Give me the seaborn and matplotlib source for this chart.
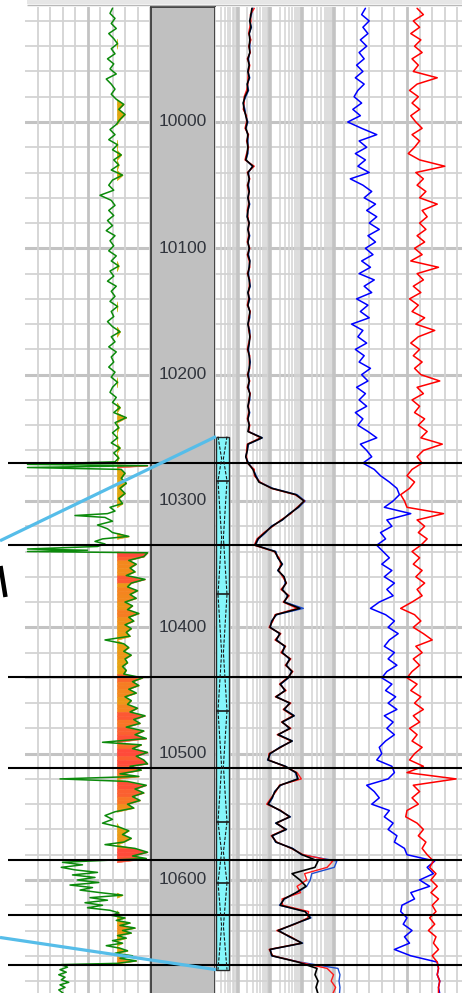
import numpy as np
import matplotlib
matplotlib.use("Agg")
import matplotlib.pyplot as plt
import matplotlib.transforms as mtransforms
from matplotlib.colors import LinearSegmentedColormap, Normalize
from matplotlib.patches import Rectangle
import seaborn as sns

# ── Layout (pixels of the 462 x 993 picture) ────────────────────────────────
FIG_W, FIG_H = 462, 993
PX_PER_FT = 1.2633
Y_AT_10000 = 122
TRACK_TOP_PX = 7


def depth_at(py):
    return 10000 + (py - Y_AT_10000) / PX_PER_FT


# ── Data ─────────────────────────────────────────────────────────────────────
DEPTH_LABELS = [10000, 10100, 10200, 10300, 10400, 10500, 10600]
ZONE_TOPS = [10270, 10335, 10439, 10511, 10584, 10628, 10667]
COLUMN_BREAKS = [10249, 10284, 10374, 10466, 10554, 10602, 10671]
CORR_LEFT = [10331.5, 10645.5]
CORR_RIGHT = [10249, 10671]
GR_CUTOFF = 7.35

# track 1 curve (depth, value)
GR_SAMPLES = [
    (9910, 7.0), (9914, 6.8), (9918, 7.2), (9922, 6.9), (9926, 7.3), (9930, 6.7),
    (9934, 7.1), (9938, 7.4), (9942, 6.9), (9946, 7.2), (9950, 6.6), (9954, 7.1),
    (9958, 6.8), (9962, 7.3), (9966, 6.5), (9970, 6.9), (9974, 7.2), (9978, 6.9),
    (9982, 7.3), (9986, 7.9), (9990, 7.5), (9994, 8.0), (9998, 7.6), (10002, 7.3),
    (10006, 6.8), (10010, 7.2), (10014, 6.7), (10018, 7.4), (10022, 7.0), (10026, 7.7),
    (10030, 7.1), (10034, 7.5), (10038, 6.9), (10042, 7.8), (10046, 7.0), (10050, 6.7),
    (10054, 7.1), (10058, 6.0), (10062, 6.9), (10066, 7.2), (10070, 6.7), (10074, 7.1),
    (10078, 6.6), (10082, 7.0), (10086, 6.5), (10090, 7.2), (10094, 6.8), (10098, 7.1),
    (10102, 6.7), (10106, 7.3), (10110, 6.9), (10114, 7.5), (10118, 6.8), (10122, 7.1),
    (10126, 6.6), (10130, 7.3), (10134, 6.9), (10138, 7.2), (10142, 6.8), (10146, 7.4),
    (10150, 6.9), (10154, 7.1), (10158, 6.6), (10162, 7.0), (10166, 7.6), (10170, 6.9),
    (10174, 7.2), (10178, 6.7), (10182, 7.3), (10186, 6.9), (10190, 7.1), (10194, 6.7),
    (10198, 7.2), (10202, 6.9), (10206, 7.4), (10210, 7.0), (10214, 6.8), (10218, 7.3),
    (10222, 7.0), (10226, 7.6), (10230, 7.1), (10234, 8.1), (10238, 7.2), (10242, 7.5),
    (10246, 7.0), (10250, 7.4), (10254, 6.9), (10258, 7.6), (10262, 7.1), (10266, 7.5),
    (10269, 7.2), (10271, 0.2), (10272, 9.8), (10273.5, 0.2), (10275, 7.7), (10278, 8.0),
    (10282, 7.7), (10286, 8.1), (10290, 7.6), (10294, 8.0), (10298, 7.5), (10302, 7.8),
    (10305, 6.8), (10308, 7.2), (10310, 6.6), (10311.5, 4.0), (10313, 6.4), (10316, 7.0),
    (10319, 5.8), (10322, 6.6), (10325, 7.0), (10328, 8.3), (10330, 6.2), (10332, 5.6),
    (10334, 6.4), (10336, 5.8), (10338, 0.2), (10339, 5.0), (10340, 0.2), (10341, 9.8),
    (10344, 9.5), (10347, 8.3), (10350, 8.9), (10353, 8.4), (10356, 8.8), (10359, 8.1),
    (10362, 9.6), (10365, 8.5), (10368, 8.2), (10371, 9.0), (10374, 8.4), (10377, 8.9),
    (10380, 8.0), (10383, 8.6), (10386, 8.2), (10389, 9.1), (10392, 8.3), (10395, 8.7),
    (10398, 8.0), (10401, 8.5), (10404, 8.1), (10407, 8.4), (10410, 6.4), (10413, 7.9),
    (10416, 8.3), (10419, 7.9), (10422, 8.5), (10425, 8.0), (10428, 8.2), (10431, 7.8),
    (10434, 8.1), (10437, 7.9), (10440, 9.4), (10443, 8.6), (10446, 9.1), (10449, 8.3),
    (10452, 8.9), (10455, 8.0), (10458, 8.5), (10461, 8.2), (10464, 9.0), (10467, 8.4),
    (10470, 9.6), (10473, 8.7), (10476, 9.2), (10479, 8.1), (10482, 9.5), (10485, 8.8),
    (10488, 9.7), (10491, 6.2), (10493, 9.3), (10496, 8.6), (10499, 9.8), (10502, 8.9),
    (10505, 9.5), (10508, 9.8), (10510, 8.4), (10513, 9.3), (10516, 7.6), (10518, 9.1),
    (10520, 2.8), (10522, 8.2), (10525, 9.7), (10528, 8.8), (10531, 9.5), (10534, 8.6),
    (10537, 9.2), (10540, 8.2), (10543, 8.7), (10546, 7.2), (10549, 6.4), (10552, 7.0),
    (10555, 6.2), (10558, 7.5), (10561, 8.3), (10564, 7.8), (10567, 8.5), (10570, 7.9),
    (10572, 6.4), (10575, 8.8), (10578, 9.8), (10581, 8.6), (10583, 9.7), (10586, 3.0),
    (10588, 4.6), (10590, 2.9), (10592, 4.0), (10594, 5.8), (10596, 3.8), (10598, 5.6),
    (10600, 4.2), (10602, 5.9), (10604, 3.6), (10606, 5.4), (10608, 4.4), (10610, 6.0),
    (10612, 7.8), (10614, 5.2), (10616, 6.6), (10618, 4.8), (10620, 6.2), (10622, 5.0),
    (10624, 6.8), (10626, 7.5), (10628, 6.9), (10630, 8.0), (10632, 7.3), (10634, 8.4),
    (10636, 7.6), (10638, 8.8), (10640, 7.8), (10642, 8.5), (10644, 7.4), (10646, 8.1),
    (10648, 7.0), (10650, 7.8), (10652, 6.5), (10654, 7.6), (10656, 8.2), (10658, 7.2),
    (10660, 8.6), (10662, 7.6), (10664, 8.9), (10666, 7.4), (10667, 2.9), (10669, 3.4),
    (10671, 2.8), (10673, 3.3), (10675, 2.7), (10677, 3.2), (10679, 2.9), (10681, 3.5),
    (10683, 2.8), (10685, 3.2), (10687, 2.7), (10690, 3.1),
]

# tracks 2 and 3 are sampled every 5 ft from 9910 ft
LOG_START, LOG_STEP = 9910, 5

# track 2 (log scale), rows of ten samples
RES_DEEP = [
    2.8, 2.6, 2.4, 2.6, 2.3, 2.4, 2.3, 2.4, 2.1, 2.3,        # 9910
    2.1, 2.3, 2.0, 2.1, 1.7, 1.5, 1.6, 1.8, 2.0, 1.8,        # 9960
    2.1, 2.0, 2.1, 2.0, 1.8, 3.0, 2.1, 2.3, 2.1, 2.3,        # 10010
    2.1, 2.3, 2.1, 2.0, 2.3, 2.1, 2.3, 2.1, 2.3, 2.1,        # 10060
    2.4, 2.3, 2.1, 2.3, 2.4, 2.1, 2.3, 2.1, 2.4, 2.3,        # 10110
    2.1, 2.3, 2.4, 2.3, 2.1, 2.3, 2.4, 2.3, 2.1, 2.3,        # 10160
    2.1, 2.4, 2.3, 2.1, 2.3, 2.1, 2.3, 2.1, 5.7, 2.1,        # 10210
    2.0, 1.8, 2.1, 3.0, 3.6, 4.6, 11.7, 65, 115, 75,         # 10260
    42, 24, 11.7, 7.1, 4.3, 3.5, 14.5, 18, 24, 18,           # 10310
    27.6, 31.8, 24, 36.7, 27.6, 86, 15.6, 11.7, 10.1, 20.7,  # 10360
    15.6, 29.7, 24, 42, 32, 49, 37, 21, 30, 15.6,            # 10410
    42, 27.6, 56, 24, 42, 18, 49, 21, 10.1, 8.8,             # 10460
    30, 65, 75, 21, 14.5, 11.7, 8.8, 21, 42, 15.6,           # 10510
    32, 11.7, 15.6, 49, 100, 313, 252, 49, 86, 133,          # 10560
    65, 27.6, 21, 124, 177, 56, 18, 42, 100, 10.1,           # 10610
    11.7, 75, 291, 252, 313, 271, 313,                       # 10660
]
RES_SHALLOW = [
    3.3, 2.5, 2.6, 2.4, 2.2, 2.6, 2.2, 2.5, 2.0, 2.4,
    2.2, 2.1, 2.1, 1.9, 1.6, 1.6, 1.5, 1.9, 1.9, 1.7,
    2.2, 1.9, 2.2, 1.9, 1.7, 3.3, 2.0, 2.4, 2.0, 2.2,
    2.2, 2.2, 2.0, 2.1, 2.2, 2.2, 2.2, 2.0, 2.4, 2.0,
    2.3, 2.4, 2.0, 2.4, 2.3, 2.2, 2.2, 2.0, 2.5, 2.2,
    2.2, 2.2, 2.5, 2.2, 2.0, 2.4, 2.3, 2.4, 2.0, 2.4,
    2.0, 2.5, 2.2, 2.2, 2.2, 2.0, 2.4, 2.2, 5.2, 2.0,
    1.9, 1.9, 2.0, 3.3, 3.3, 5.0, 11.0, 60, 120, 70,
    45, 22, 12.5, 6.6, 4.0, 3.3, 13.5, 19.5, 22, 19,
    25, 33, 22, 40, 26, 70, 14.5, 12.5, 9.5, 22,
    14.5, 31, 22, 45, 30, 52, 35, 20, 32, 14.8,
    45, 26, 52, 23, 45, 17, 46, 22, 9.4, 9.2,
    28, 70, 95, 20, 15.5, 11.0, 8.0, 22, 40, 16.5,
    30, 11.0, 16.5, 46, 110, 900, 600, 120, 140, 70,
    90, 24, 25, 160, 150, 60, 16.5, 45, 95, 9.5,
    12.5, 80, 600, 950, 800, 1100, 900,
]
RES_MEDIUM = [
    3.0, 2.7, 2.4, 2.7, 2.3, 2.5, 2.4, 2.4, 2.2, 2.3,
    2.1, 2.4, 2.0, 2.2, 1.8, 1.5, 1.7, 1.8, 2.1, 1.8,
    2.1, 2.1, 2.1, 2.1, 1.8, 2.9, 2.2, 2.3, 2.2, 2.3,
    2.1, 2.4, 2.1, 2.0, 2.3, 2.1, 2.4, 2.1, 2.3, 2.2,
    2.4, 2.3, 2.2, 2.3, 2.5, 2.1, 2.4, 2.1, 2.4, 2.4,
    2.1, 2.4, 2.4, 2.3, 2.2, 2.3, 2.5, 2.3, 2.2, 2.3,
    2.2, 2.4, 2.4, 2.1, 2.4, 2.1, 2.3, 2.2, 5.9, 2.2,
    2.0, 1.8, 2.2, 3.1, 3.8, 4.8, 12.5, 70, 125, 80,
    40, 25, 11.0, 7.5, 4.5, 3.6, 15.5, 17.5, 25, 17.5,
    28, 30, 25, 35, 29, 110, 16.5, 11.2, 10.5, 20,
    16.5, 28, 25, 40, 33, 47, 38, 22, 29, 16.5,
    40, 29, 58, 25, 40, 19, 50, 20, 10.6, 8.5,
    31, 62, 72, 22, 14.0, 12.2, 9.2, 20, 44, 15.0,
    33, 12.2, 15.0, 52, 95, 1200, 1000, 200, 180, 140,
    70, 29, 20, 130, 190, 55, 19, 40, 105, 10.6,
    11.2, 85, 1300, 1500, 1400, 1500, 1450,
]

# track 3 (linear scale)
T3_BLUE = [
    1.7, 1.4, 2.0, 1.5, 1.9, 1.3, 1.8, 1.2, 1.6, 1.0,
    1.5, 0.9, 1.6, 1.1, 0.8, 1.4, 0.7, 1.3, 0.3, 1.4,
    2.6, 1.2, 1.8, 0.9, 1.7, 1.1, 2.0, 0.5, 1.5, 2.2,
    1.6, 2.5, 1.8, 2.6, 2.0, 2.8, 1.9, 2.5, 1.7, 2.3,
    1.4, 2.1, 1.2, 2.4, 1.6, 2.2, 1.0, 1.9, 1.3, 2.0,
    0.6, 1.5, 1.1, 1.8, 0.9, 1.6, 1.2, 2.1, 1.4, 1.9,
    1.0, 1.7, 1.2, 1.8, 0.9, 1.5, 1.1, 1.9, 2.6, 1.3,
    1.8, 2.2, 1.5, 2.4, 2.9, 3.6, 4.2, 4.4, 3.9, 3.2,
    5.3, 3.4, 3.8, 2.9, 3.3, 2.6, 3.1, 3.6, 3.0, 3.8,
    3.2, 4.0, 3.4, 3.9, 2.8, 2.1, 3.3, 4.0, 3.5, 4.3,
    3.6, 3.2, 4.0, 3.5, 4.2, 3.4, 3.0, 3.8, 3.3, 4.1,
    3.5, 4.2, 3.2, 3.9, 3.4, 4.0, 3.3, 2.8, 3.0, 2.6,
    3.8, 4.0, 3.5, 1.8, 2.4, 2.8, 2.2, 3.6, 3.2, 3.9,
    3.5, 4.2, 4.0, 4.8, 5.0, 7.2, 6.6, 7.1, 6.0, 6.8,
    5.3, 5.6, 4.6, 4.5, 5.0, 4.7, 5.4, 4.8, 5.2, 4.0,
    5.3, 7.4, 7.5, 7.4, 7.6, 7.5, 7.6,
]
T3_RED = [
    5.8, 6.3, 5.5, 6.0, 5.3, 6.1, 5.6, 6.2, 5.4, 5.9,
    5.5, 7.4, 5.8, 5.2, 5.9, 5.4, 6.0, 5.3, 5.7, 6.2,
    5.4, 6.0, 5.6, 5.1, 6.0, 8.0, 5.7, 6.3, 5.8, 6.5,
    6.0, 7.4, 6.2, 6.6, 6.0, 6.5, 5.8, 6.4, 5.6, 6.2,
    5.3, 7.5, 5.8, 6.3, 5.5, 6.1, 5.2, 5.9, 5.4, 6.4,
    5.7, 7.2, 5.9, 5.3, 6.0, 5.5, 6.2, 5.6, 6.1, 7.6,
    5.8, 6.3, 5.4, 6.0, 5.6, 6.4, 5.9, 6.6, 6.1, 7.8,
    6.3, 5.8, 6.2, 5.4, 5.0, 5.6, 5.2, 4.5, 4.8, 5.0,
    7.9, 5.8, 6.4, 5.9, 6.6, 6.1, 5.4, 6.0, 5.5, 6.2,
    5.7, 6.4, 5.8, 6.2, 5.4, 4.5, 5.6, 6.1, 5.5, 6.3,
    7.0, 5.7, 6.2, 5.5, 6.0, 5.4, 5.0, 5.8, 5.3, 6.1,
    5.6, 6.3, 5.5, 6.0, 5.2, 5.8, 5.4, 6.2, 5.6, 5.2,
    6.3, 5.0, 8.9, 5.5, 6.0, 5.4, 5.9, 5.0, 4.9, 5.8,
    6.3, 5.9, 6.5, 6.2, 6.6, 7.1, 6.8, 7.3, 6.9, 7.4,
    6.9, 7.5, 7.0, 7.3, 6.8, 7.2, 6.7, 7.3, 7.1, 7.5,
    7.0, 7.4, 7.5, 7.4, 7.6, 7.5, 7.5,
]


def log_depths(values):
    return LOG_START + LOG_STEP * np.arange(len(values))


# ── Style ────────────────────────────────────────────────────────────────────
sns.set_theme(style="white")
plt.rcParams["font.family"] = ["Liberation Sans", "DejaVu Sans"]

GRID_MINOR = "#d3d3d3"
GRID_MAJOR = "#c3c3c3"

fig = plt.figure(figsize=(FIG_W / 100, FIG_H / 100), dpi=100)
fig.patch.set_facecolor("white")


def track_axes(x0, x1):
    ax = fig.add_axes([x0 / FIG_W, 0, (x1 - x0) / FIG_W,
                       (FIG_H - TRACK_TOP_PX) / FIG_H])
    ax.set_ylim(depth_at(FIG_H), depth_at(TRACK_TOP_PX))
    ax.tick_params(left=False, bottom=False, labelleft=False, labelbottom=False)
    for s in ax.spines.values():
        s.set_visible(False)
    return ax


def depth_grid(ax):
    for d in range(9920, 10690, 20):
        major = d % 100 == 0
        ax.axhline(d, color=GRID_MAJOR if major else GRID_MINOR,
                   lw=2.2 if major else 1.3, zorder=0.5)


def finish(ax):
    ax.set_xlabel("")
    ax.set_ylabel("")
    ax.set_ylim(depth_at(FIG_H), depth_at(TRACK_TOP_PX))


# ── Track 1 ──────────────────────────────────────────────────────────────────
ax1 = track_axes(25, 150)
gr = np.array(GR_SAMPLES)
gr_depth, gr_value = gr[:, 0], gr[:, 1]
depth_grid(ax1)
for k in range(1, 11):
    ax1.axvline(k, color=GRID_MAJOR if k == 5 else GRID_MINOR,
                lw=2.0 if k == 5 else 1.3, zorder=0.5)

fill_cmap = LinearSegmentedColormap.from_list(
    "gr_fill", ["#c4b000", "#e6a312", "#f5851e", "#ff4a3a"])
fill_norm = Normalize(GR_CUTOFF, 9.8)
for i in range(len(gr_depth) - 1):
    x0 = max(gr_value[i], GR_CUTOFF)
    x1 = max(gr_value[i + 1], GR_CUTOFF)
    if x0 == GR_CUTOFF and x1 == GR_CUTOFF:
        continue
    c = fill_cmap(fill_norm(max(x0, x1)))
    ax1.fill_betweenx([gr_depth[i], gr_depth[i + 1]], GR_CUTOFF, [x0, x1],
                      color=c, lw=0.4, zorder=1)

sns.lineplot(x=gr_value, y=gr_depth, orient="y", sort=False, estimator=None,
             color="#0b8a0b", lw=1.1, legend=False, ax=ax1, zorder=3)
ax1.set_xlim(0, 10)
finish(ax1)

# ── Depth track ──────────────────────────────────────────────────────────────
axd = track_axes(151, 215)
axd.set_facecolor("#c0c0c0")
for side in ("left", "right", "top"):
    axd.spines[side].set_visible(True)
    axd.spines[side].set_color("#3a3a3a")
    axd.spines[side].set_linewidth(1.3)
axd.set_xlim(0, 1)
lab_tr = mtransforms.blended_transform_factory(axd.transAxes, axd.transData)
for d in DEPTH_LABELS:
    axd.text(0.5, d, f"{d}", transform=lab_tr, ha="center", va="center",
             fontsize=12.5, color="#30343c")

# ── Track 2 (log) ────────────────────────────────────────────────────────────
ax2 = track_axes(215, 344)
ax2.set_xscale("log")
depth_grid(ax2)
for dec in (0.1, 1, 10, 100, 1000):
    for m in range(1, 10):
        v = dec * m
        if 0.2 <= v <= 2000:
            ax2.axvline(v, color=GRID_MAJOR if m == 1 else GRID_MINOR,
                        lw=2.6 if m == 1 else 1.1, zorder=0.5)
for vals, col, lw in ((RES_MEDIUM, "#1f4fd0", 1.0),
                      (RES_SHALLOW, "#ff1a1a", 1.0),
                      (RES_DEEP, "black", 1.2)):
    sns.lineplot(x=vals, y=log_depths(vals), orient="y", sort=False,
                 estimator=None, color=col, lw=lw, legend=False, ax=ax2, zorder=3)
ax2.set_xlim(0.2, 2000)
finish(ax2)

# ── Track 3 (linear) ─────────────────────────────────────────────────────────
ax3 = track_axes(344, FIG_W)
depth_grid(ax3)
for k in range(0, 10):
    ax3.axvline(k, color=GRID_MAJOR if k == 5 else GRID_MINOR,
                lw=2.0 if k == 5 else 1.3, zorder=0.5)
for vals, col in ((T3_BLUE, "#0000ff"), (T3_RED, "#ff0000")):
    sns.lineplot(x=vals, y=log_depths(vals), orient="y", sort=False,
                 estimator=None, color=col, lw=1.1, legend=False, ax=ax3, zorder=3)
ax3.set_xlim(0, (FIG_W - 344) / 12.6)
finish(ax3)

# ── Overlay: zones, column, correlation lines ────────────────────────────────
ov = fig.add_axes([0, 0, 1, 1], zorder=10)
ov.set_xlim(0, FIG_W)
ov.set_ylim(depth_at(FIG_H), depth_at(0))
ov.axis("off")
ov.patch.set_alpha(0)

ov.axhspan(depth_at(0), depth_at(4.5), xmin=27 / FIG_W, xmax=1,
           color="#e6e6e6", lw=0)
ov.hlines(depth_at(5), 27, FIG_W, color="#b8b8b8", lw=1.0)

ov.hlines(ZONE_TOPS, 8, FIG_W, color="black", lw=1.5)

ov.add_patch(Rectangle((216, COLUMN_BREAKS[0]), 13,
                       COLUMN_BREAKS[-1] - COLUMN_BREAKS[0],
                       facecolor="#84f6fb", edgecolor="#2a2a2a", lw=1.0))
for a, b in zip(COLUMN_BREAKS[:-1], COLUMN_BREAKS[1:]):
    mid = (a + b) / 2
    ov.plot([218, 221.6, 218], [a, mid, b], color="#1a1a1a", lw=0.8,
            dashes=(3, 1.5))
    ov.plot([227, 223.4, 227], [a, mid, b], color="#1a1a1a", lw=0.8,
            dashes=(3, 1.5))
ov.hlines(COLUMN_BREAKS[1:-1], 216, 229, color="#1a1a1a", lw=1.2)

for left, right in zip(CORR_LEFT, CORR_RIGHT):
    ov.plot([0, 216], [left, right], color="#56bde9", lw=2.3,
            solid_capstyle="butt")

ov.plot([0.5, 5.5], [depth_at(566), depth_at(597)], color="black", lw=3.2,
        solid_capstyle="butt")

fig.savefig("out.png", dpi=100)
